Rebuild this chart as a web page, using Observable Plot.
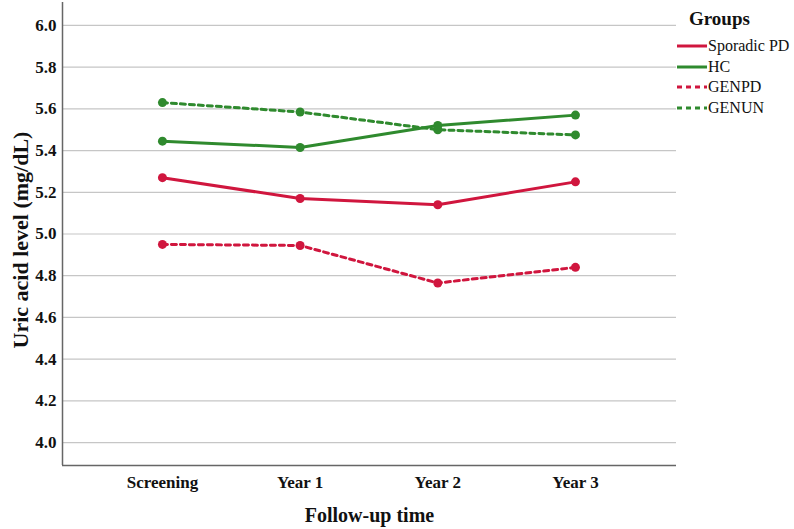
<!DOCTYPE html>
<html>
<head>
<meta charset="utf-8">
<script src="https://cdn.jsdelivr.net/npm/d3@7"></script>
<script src="https://cdn.jsdelivr.net/npm/@observablehq/plot@0.6"></script>
<style>
  html, body { margin: 0; padding: 0; background: #fff; }
  #wrap { position: relative; width: 794px; height: 529px; overflow: hidden; }
  #legend { position: absolute; left: 677px; top: 6px; font-family: "Liberation Serif", serif; color: #111; }
  #legend .title { font-weight: bold; font-size: 19px; margin-left: 12px; height: 30px; line-height: 26px; }
  #legend .item { display: flex; align-items: center; height: 20.5px; font-size: 16px; }
  #legend svg { display: block; margin-right: 1px; }
</style>
</head>
<body>
<div id="wrap"><div id="legend"></div></div>
<script>
const timepoints = ["Screening", "Year 1", "Year 2", "Year 3"];
const groups = ["Sporadic PD", "HC", "GENPD", "GENUN"];
const sporadicPD = [5.27, 5.17, 5.14, 5.25];
const hc = [5.445, 5.415, 5.52, 5.57];
const genpd = [4.95, 4.945, 4.765, 4.84];
const genun = [5.63, 5.585, 5.50, 5.475];
const yTicks = [4.0, 4.2, 4.4, 4.6, 4.8, 5.0, 5.2, 5.4, 5.6, 5.8, 6.0];
const groupColors = ["#d0163e", "#2f8a2e", "#d0163e", "#2f8a2e"];
const groupDash = [null, null, "5,4", "5,4"];

const seriesValues = [sporadicPD, hc, genpd, genun];
const rows = [];
groups.forEach((g, gi) => seriesValues[gi].forEach((v, ti) => rows.push({group: g, t: ti, v})));

const xDomain = [-0.726, timepoints.length - 1 + 0.734];
const yDomain = [3.89, 6.11];

const seriesMarks = [];
groups.forEach((g, gi) => {
  const d = rows.filter(r => r.group === g);
  seriesMarks.push(Plot.line(d, {x: "t", y: "v", stroke: groupColors[gi], strokeWidth: 3, strokeDasharray: groupDash[gi] || undefined}));
});
groups.forEach((g, gi) => {
  const d = rows.filter(r => r.group === g);
  seriesMarks.push(Plot.dot(d, {x: "t", y: "v", fill: groupColors[gi], r: 4.5}));
});

const chart = Plot.plot({
  width: 794,
  height: 529,
  marginLeft: 62,
  marginRight: 118,
  marginTop: 2,
  marginBottom: 64,
  style: {fontFamily: "'Liberation Serif', serif", fontSize: "17px", fontWeight: "bold", color: "#111", background: "#fff"},
  x: {domain: xDomain},
  y: {domain: yDomain},
  marks: [
    Plot.ruleY(yTicks, {y: d => d, stroke: "#c6c6c6", strokeWidth: 1.2}),
    Plot.ruleX([xDomain[0]], {stroke: "#666", strokeWidth: 1.5}),
    Plot.ruleY([yDomain[0]], {stroke: "#666", strokeWidth: 1.5}),
    Plot.axisY(yTicks, {tickSize: 0, tickPadding: 6, tickFormat: d3.format(".1f"), label: "Uric acid level (mg/dL)", labelArrow: "none", labelAnchor: "center", labelOffset: 50}),
    Plot.axisX(d3.range(timepoints.length), {tickSize: 0, tickPadding: 10, tickFormat: i => timepoints[i], label: "Follow-up time", labelArrow: "none", labelAnchor: "center", labelOffset: 56}),
    ...seriesMarks
  ]
});
document.getElementById("wrap").prepend(chart);
d3.select(chart).selectAll('[aria-label="x-axis label"]').style("font-size", "20px");
d3.select(chart).selectAll('[aria-label="y-axis label"]').style("font-size", "22px");
d3.select(chart).selectAll('[aria-label="y-axis label"]').attr("transform", function() {
  const t = this.getAttribute("transform") || "";
  return t + " translate(0,6)";
});

// legend
const leg = document.getElementById("legend");
const t = document.createElement("div");
t.className = "title"; t.textContent = "Groups";
leg.appendChild(t);
groups.forEach((g, gi) => {
  const it = document.createElement("div");
  it.className = "item";
  const ns = "http://www.w3.org/2000/svg";
  const s = document.createElementNS(ns, "svg");
  s.setAttribute("width", 30); s.setAttribute("height", 10);
  const l = document.createElementNS(ns, "line");
  l.setAttribute("x1", 0); l.setAttribute("x2", 30); l.setAttribute("y1", 5); l.setAttribute("y2", 5);
  l.setAttribute("stroke", groupColors[gi]); l.setAttribute("stroke-width", 3);
  if (groupDash[gi]) l.setAttribute("stroke-dasharray", groupDash[gi]);
  s.appendChild(l);
  it.appendChild(s);
  const sp = document.createElement("span"); sp.textContent = g;
  it.appendChild(sp);
  leg.appendChild(it);
});
</script>
</body>
</html>
